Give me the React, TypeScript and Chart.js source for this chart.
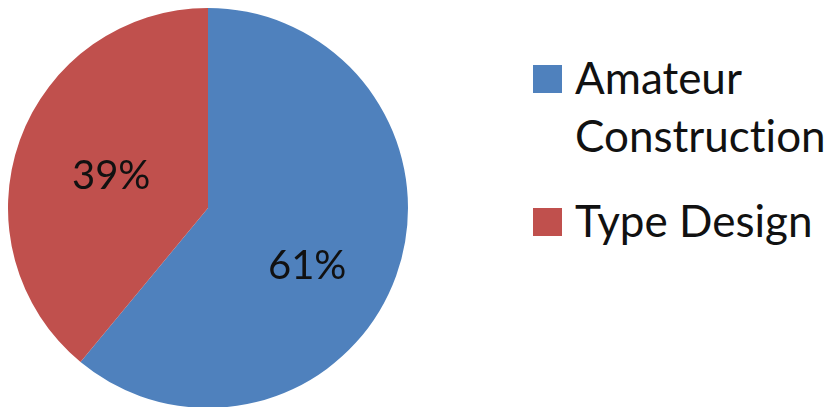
import React, { useEffect, useRef } from "react";
import { Chart, registerables } from "chart.js";

Chart.register(...registerables);

const categories = ["Amateur Construction", "Type Design"];
const legendLines = [["Amateur", "Construction"], ["Type Design"]];
const values = [61, 39];
const percentLabels = ["61%", "39%"];
const colors = ["#4F81BD", "#C0504D"];
// label anchor: [angle offset in degrees, fraction of radius]
const labelAnchors = [
  [10.6, 0.575],
  [-1.5, 0.51],
];

const FONT = "Lato, 'Open Sans', sans-serif";

const labelPlugin = {
  id: "sliceLabels",
  afterDatasetsDraw(chart: any) {
    const ctx = chart.ctx;
    const meta = chart.getDatasetMeta(0);
    ctx.save();
    ctx.font = `40px ${FONT}`;
    ctx.fillStyle = "#111111";
    ctx.textAlign = "center";
    ctx.textBaseline = "middle";
    meta.data.forEach((arc: any, i: number) => {
      const p = arc.getProps(["x", "y", "startAngle", "endAngle", "outerRadius"], true);
      const mid = (p.startAngle + p.endAngle) / 2 + (labelAnchors[i][0] * Math.PI) / 180;
      const r = p.outerRadius * labelAnchors[i][1];
      ctx.fillText(percentLabels[i], p.x + Math.cos(mid) * r, p.y + Math.sin(mid) * r);
    });
    ctx.restore();
  },
};

export default function App() {
  const ref = useRef<HTMLCanvasElement>(null);
  useEffect(() => {
    if (!ref.current) return;
    const chart = new Chart(ref.current, {
      type: "pie",
      data: {
        labels: categories,
        datasets: [
          {
            data: values,
            backgroundColor: colors,
            borderWidth: 0,
          },
        ],
      },
      options: {
        responsive: false,
        animation: false,
        layout: { padding: 0 },
        plugins: {
          legend: { display: false },
          tooltip: { enabled: false },
        },
      },
      plugins: [labelPlugin],
    });
    return () => chart.destroy();
  }, []);

  return (
    <div
      style={{
        position: "absolute",
        left: 0,
        top: 0,
        width: 835,
        height: 407,
        overflow: "hidden",
        background: "#ffffff",
      }}
    >
      <canvas
        ref={ref}
        width={400}
        height={400}
        style={{ position: "absolute", left: 8, top: 8, width: 400, height: 400 }}
      />
      <div
        style={{
          position: "absolute",
          left: 533,
          top: 48,
          fontFamily: FONT,
          fontSize: 44,
          lineHeight: "58px",
          color: "#111111",
          fontVariantLigatures: "none",
          fontFeatureSettings: '"liga" 0, "clig" 0',
        }}
      >
        {legendLines.map((lines, i) => (
          <div key={i} style={{ position: "relative", paddingLeft: 42, marginBottom: 27 }}>
            <span
              style={{
                position: "absolute",
                left: 0,
                top: 17,
                width: 29,
                height: 28,
                background: colors[i],
              }}
            />
            {lines.map((l, j) => (
              <div key={j} style={{ whiteSpace: "nowrap" }}>
                {l}
              </div>
            ))}
          </div>
        ))}
      </div>
    </div>
  );
}
